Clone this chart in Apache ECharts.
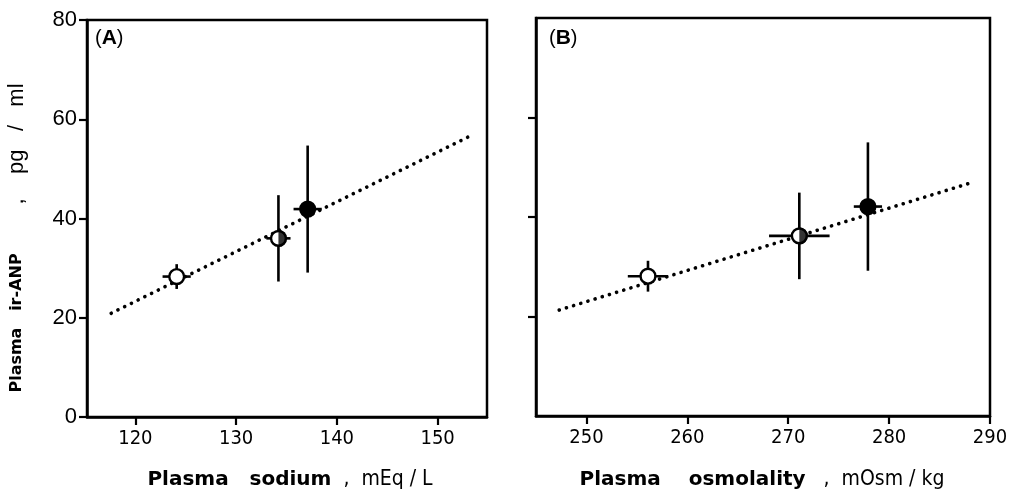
<!DOCTYPE html>
<html><head><meta charset="utf-8">
<script src="https://cdn.jsdelivr.net/npm/echarts@6/dist/echarts.min.js"></script>
<style>html,body{margin:0;padding:0;background:#fff}#c{width:1016px;height:495px}</style>
</head><body><div id="c"></div>
<script>
// ---- data ----
const markerType = ['open', 'half', 'filled'];
const sodiumX = [124.1, 134.2, 137.1];
const sodiumXErr = [1.4, 1.2, 1.4];
const anpA = [28.3, 36.0, 41.9];
const anpAErr = [2.5, 8.7, 12.8];
const osmX = [256.1, 271.1, 277.9];
const osmXErr = [2.0, 3.0, 1.4];
const anpB = [28.1, 36.2, 42.1];
const anpBErr = [3.1, 8.7, 12.9];
const fitAX = [117.6, 153.3];
const fitAY = [20.9, 56.7];
const fitBX = [247.3, 288.0];
const fitBY = [21.3, 46.8];
const yTicks = [0, 20, 40, 60, 80];
const yTicksB = [20, 40, 60];
const xTicksA = [120, 130, 140, 150];
const xTicksB = [250, 260, 270, 280, 290];

const ptsA = sodiumX.map((x, i) => [x, anpA[i], sodiumXErr[i], anpAErr[i]]);
const ptsB = osmX.map((x, i) => [x, anpB[i], osmXErr[i], anpBErr[i]]);
const halfA = ptsA.filter((p, i) => markerType[i] === 'half').map(p => [p[0], p[1]]);
const halfB = ptsB.filter((p, i) => markerType[i] === 'half').map(p => [p[0], p[1]]);
const lineA = fitAX.map((x, i) => [x, fitAY[i]]);
const lineB = fitBX.map((x, i) => [x, fitBY[i]]);

const R = 7.4;
function renderItem(params, api) {
  const x = api.value(0), y = api.value(1), xe = api.value(2), ye = api.value(3);
  const t = markerType[params.dataIndex];
  const c = api.coord([x, y]);
  const top = api.coord([x, y + ye]), bot = api.coord([x, y - ye]);
  const l = api.coord([x - xe, y]), r = api.coord([x + xe, y]);
  const ls = { stroke: '#000', lineWidth: 2.6 };
  return { type: 'group', children: [
    { type: 'line', shape: { x1: top[0], y1: top[1], x2: bot[0], y2: bot[1] }, style: ls },
    { type: 'line', shape: { x1: l[0], y1: l[1], x2: r[0], y2: r[1] }, style: ls },
    { type: 'circle', shape: { cx: c[0], cy: c[1], r: R }, style: { fill: t === 'filled' ? '#000' : '#fff', stroke: '#000', lineWidth: 2.4 } }
  ] };
}

const axisCommon = {
  axisLine: { show: true, lineStyle: { color: '#000', width: 2.5 } },
  axisTick: { show: true, inside: false, length: 8, lineStyle: { color: '#000', width: 2.2 } },
  splitLine: { show: false }
};
const dotted = { color: '#000', width: 3.6, type: [0.1, 7.4], cap: 'round' };
const condensed = 'DejaVu Sans Condensed, Liberation Sans, sans-serif';
const xLab = { color: '#000', fontFamily: condensed, fontSize: 20, margin: 12 };
const halfSym = 'path://M0,0 A10,10 0 0,1 0,20 Z';
const HR = R + 1.2;
const halfCommon = { type: 'scatter', symbol: halfSym, symbolSize: [HR, 2 * HR], symbolOffset: [HR / 2, 0],
  itemStyle: { color: '#000', borderWidth: 0 }, z: 5, silent: true };

const chart = echarts.init(document.getElementById('c'));
chart.setOption({
  animation: false,
  backgroundColor: '#fff',
  grid: [
    { left: 87, top: 20, width: 400, height: 397, show: true, borderColor: '#000', borderWidth: 2.5, backgroundColor: 'transparent' },
    { left: 536, top: 18, width: 454, height: 398, show: true, borderColor: '#000', borderWidth: 2.5, backgroundColor: 'transparent' }
  ],
  xAxis: [
    Object.assign({}, axisCommon, { type: 'value', gridIndex: 0, min: 115.2, max: 154.9,
      axisTick: Object.assign({}, axisCommon.axisTick, { customValues: xTicksA }),
      axisLabel: Object.assign({ customValues: xTicksA }, xLab) }),
    Object.assign({}, axisCommon, { type: 'value', gridIndex: 1, min: 245, max: 290,
      axisTick: Object.assign({}, axisCommon.axisTick, { customValues: xTicksB }),
      axisLabel: Object.assign({ customValues: xTicksB }, xLab) })
  ],
  yAxis: [
    Object.assign({}, axisCommon, { type: 'value', gridIndex: 0, min: 0, max: 80,
      axisTick: Object.assign({}, axisCommon.axisTick, { customValues: yTicks }),
      axisLabel: { customValues: yTicks, color: '#000', fontFamily: 'Liberation Sans', fontSize: 22, margin: 10 } }),
    Object.assign({}, axisCommon, { type: 'value', gridIndex: 1, min: 0, max: 80,
      axisTick: Object.assign({}, axisCommon.axisTick, { customValues: yTicksB }),
      axisLabel: { show: false } })
  ],
  series: [
    { type: 'line', xAxisIndex: 0, yAxisIndex: 0, data: lineA, showSymbol: false, lineStyle: dotted, z: 2 },
    { type: 'line', xAxisIndex: 1, yAxisIndex: 1, data: lineB, showSymbol: false, lineStyle: dotted, z: 2 },
    { type: 'custom', xAxisIndex: 0, yAxisIndex: 0, data: ptsA, renderItem: renderItem, encode: { x: 0, y: 1 }, z: 3 },
    { type: 'custom', xAxisIndex: 1, yAxisIndex: 1, data: ptsB, renderItem: renderItem, encode: { x: 0, y: 1 }, z: 3 },
    Object.assign({ xAxisIndex: 0, yAxisIndex: 0, data: halfA }, halfCommon),
    Object.assign({ xAxisIndex: 1, yAxisIndex: 1, data: halfB }, halfCommon)
  ],
  graphic: [
    { type: 'text', left: 95, top: 28, style: { text: '{p|(}{b|A}{p|)}', rich: { p: { fontFamily: 'Liberation Sans', fontSize: 20, fill: '#000' }, b: { fontFamily: 'Liberation Sans', fontWeight: 'bold', fontSize: 21, fill: '#000' } } } },
    { type: 'text', left: 549, top: 28, style: { text: '{p|(}{b|B}{p|)}', rich: { p: { fontFamily: 'Liberation Sans', fontSize: 20, fill: '#000' }, b: { fontFamily: 'Liberation Sans', fontWeight: 'bold', fontSize: 21, fill: '#000' } } } },
    { type: 'text', x: 290, y: 480, style: { text: '{b|Plasma   sodium}{n|  ,  mEq / L}', align: 'center', verticalAlign: 'middle',
        rich: { b: { fontFamily: 'DejaVu Sans', fontWeight: 'bold', fontSize: 20, fill: '#000' }, n: { fontFamily: condensed, fontSize: 21, fill: '#000' } } } },
    { type: 'text', x: 762, y: 480, style: { text: '{b|Plasma    osmolality}{n|   ,  mOsm / kg}', align: 'center', verticalAlign: 'middle',
        rich: { b: { fontFamily: 'DejaVu Sans', fontWeight: 'bold', fontSize: 20, fill: '#000' }, n: { fontFamily: condensed, fontSize: 21, fill: '#000' } } } },
    { type: 'text', x: 17, y: 238, rotation: Math.PI / 2, style: { text: '{b|Plasma   ir-ANP}{n|        ,    pg   /   ml}', align: 'center', verticalAlign: 'middle',
        rich: { b: { fontFamily: 'DejaVu Sans', fontWeight: 'bold', fontSize: 16, fill: '#000' }, n: { fontFamily: 'Liberation Sans', fontSize: 22, fill: '#000' } } } }
  ]
});
</script>
</body></html>
